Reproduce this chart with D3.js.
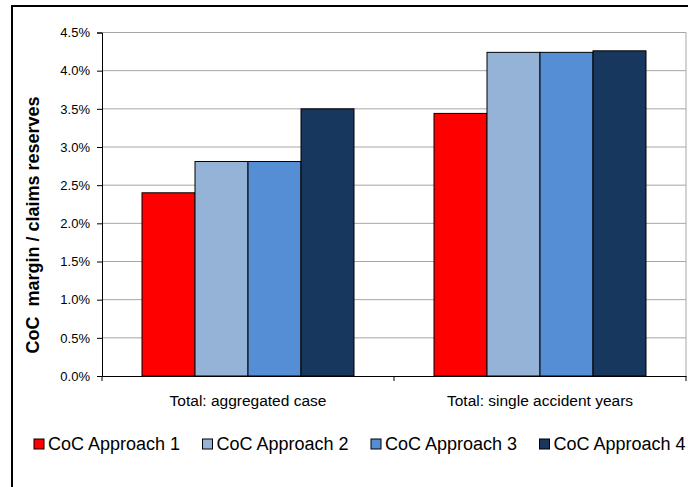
<!DOCTYPE html>
<html>
<head>
<meta charset="utf-8">
<script src="https://cdn.jsdelivr.net/npm/d3@7"></script>
<style>
  body { margin: 0; background: #fff; }
  svg { font-family: Arial, "Liberation Sans", sans-serif; }
</style>
</head>
<body>
<svg id="chart" width="688" height="487"></svg>
<script>
// chart data
const categories = ["Total: aggregated case", "Total: single accident years"];
const seriesNames = ["CoC Approach 1", "CoC Approach 2", "CoC Approach 3", "CoC Approach 4"];
const seriesColors = ["#FF0000", "#95B3D7", "#558ED5", "#17375E"];
const approach1 = [0.0240, 0.0344];
const approach2 = [0.0281, 0.0424];
const approach3 = [0.0281, 0.0424];
const approach4 = [0.0350, 0.0426];
const yTicks = [0, 0.005, 0.01, 0.015, 0.02, 0.025, 0.03, 0.035, 0.04, 0.045];

const seriesValues = [approach1, approach2, approach3, approach4];

const svg = d3.select("#chart");

// outer chart frame
svg.append("rect")
    .attr("x", 12).attr("y", 6)
    .attr("width", 700).attr("height", 520)
    .attr("fill", "none")
    .attr("stroke", "#000")
    .attr("stroke-width", 2);

const plot = {left: 102, top: 32.5, right: 686, bottom: 376};

const x0 = d3.scaleBand()
    .domain(categories)
    .range([plot.left, plot.right])
    .paddingInner(0)
    .paddingOuter(0);

// bars fill 212 of 292 px in each band
const groupInset = x0.bandwidth() * 40 / 292;
const x1 = d3.scaleBand()
    .domain(seriesNames)
    .range([groupInset, x0.bandwidth() - groupInset]);

const y = d3.scaleLinear()
    .domain([0, 0.045])
    .range([plot.bottom, plot.top]);

// gridlines
svg.append("g")
    .selectAll("line")
    .data(yTicks.slice(1))
    .enter()
    .append("line")
    .attr("x1", plot.left).attr("x2", plot.right)
    .attr("y1", d => y(d)).attr("y2", d => y(d))
    .attr("stroke", "#A6A6A6")
    .attr("stroke-width", 1);

// right border of plot area
svg.append("line")
    .attr("x1", plot.right).attr("x2", plot.right)
    .attr("y1", plot.top).attr("y2", plot.bottom)
    .attr("stroke", "#A6A6A6");

// bars
const rows = [];
categories.forEach((c, i) => {
    seriesNames.forEach((s, j) => {
        rows.push({category: c, series: s, value: seriesValues[j][i], color: seriesColors[j]});
    });
});

svg.append("g")
    .selectAll(".bar")
    .data(rows)
    .enter()
    .append("rect")
    .attr("class", "bar")
    .attr("x", d => x0(d.category) + x1(d.series))
    .attr("y", d => y(d.value))
    .attr("width", x1.bandwidth())
    .attr("height", d => y(0) - y(d.value))
    .attr("fill", d => d.color)
    .attr("stroke", "#000")
    .attr("stroke-width", 1);

// Y axis
const yAxis = d3.axisLeft(y)
    .tickValues(yTicks)
    .tickFormat(d3.format(".1%"))
    .tickSize(5)
    .tickPadding(7);

const yG = svg.append("g")
    .attr("transform", `translate(${plot.left},0)`)
    .call(yAxis);
yG.select(".domain").attr("stroke", "#000");
yG.selectAll(".tick line").attr("stroke", "#000");
yG.selectAll("text")
    .attr("fill", "#000")
    .style("font-size", "13px");

// X axis
const xAxis = d3.axisBottom(x0)
    .tickSize(0)
    .tickPadding(19);

const xG = svg.append("g")
    .attr("transform", `translate(0,${plot.bottom})`)
    .call(xAxis);
xG.select(".domain").attr("stroke", "#000");
xG.selectAll("text")
    .attr("fill", "#000")
    .style("font-size", "15.5px");

// category separator ticks
svg.append("g")
    .selectAll("line")
    .data([plot.left, x0(categories[1]), plot.right])
    .enter()
    .append("line")
    .attr("x1", d => d).attr("x2", d => d)
    .attr("y1", plot.bottom).attr("y2", plot.bottom + 5)
    .attr("stroke", "#000");

// y title
svg.append("text")
    .attr("transform", "translate(39,225) rotate(-90)")
    .attr("text-anchor", "middle")
    .style("font-size", "18px")
    .style("font-weight", "bold")
    .attr("xml:space", "preserve")
    .text("CoC  margin / claims reserves");

// legend
const legend = svg.append("g")
    .selectAll("g")
    .data(seriesNames)
    .enter()
    .append("g")
    .attr("transform", (d, i) => `translate(${34 + i * 168.5},439)`);

legend.append("rect")
    .attr("width", 10).attr("height", 10)
    .attr("fill", (d, i) => seriesColors[i])
    .attr("stroke", "#000")
    .attr("stroke-width", 1);

legend.append("text")
    .attr("x", 14)
    .attr("y", 11)
    .style("font-size", "18px")
    .text(d => d);
</script>
</body>
</html>
